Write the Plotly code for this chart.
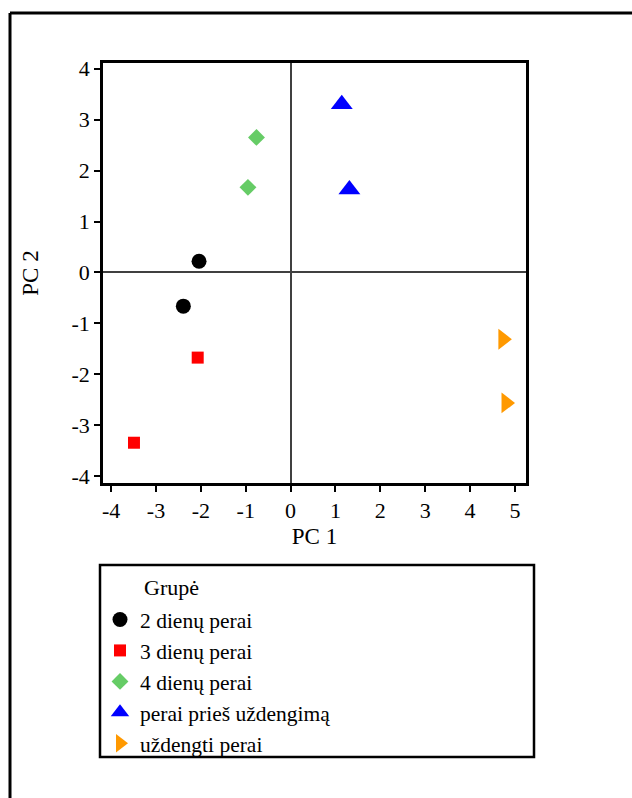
import plotly.graph_objects as go

groups = ["2 dienų perai", "3 dienų perai", "4 dienų perai", "perai prieš uždengimą", "uždengti perai"]
pc1 = {
    "2 dienų perai": [-2.04, -2.39],
    "3 dienų perai": [-2.07, -3.49],
    "4 dienų perai": [-0.76, -0.95],
    "perai prieš uždengimą": [1.14, 1.31],
    "uždengti perai": [4.73, 4.80],
}
pc2 = {
    "2 dienų perai": [0.22, -0.66],
    "3 dienų perai": [-1.67, -3.34],
    "4 dienų perai": [2.65, 1.67],
    "perai prieš uždengimą": [3.30, 1.63],
    "uždengti perai": [-1.31, -2.56],
}
symbols = ["circle", "square", "diamond", "triangle-up", "triangle-right"]
colors = ["#000000", "#FF0000", "#66CC66", "#0000FF", "#FF9900"]
sizes = [15, 12, 13, 19, 18]
x_ticks = [-4, -3, -2, -1, 0, 1, 2, 3, 4, 5]
x_ticktext = ["-4", "-3", "-2", "-1", "0", "1", "2", "3", "4", "5"]
y_ticks = [-4, -3, -2, -1, 0, 1, 2, 3, 4]
y_ticktext = ["-4", "-3", "-2", "-1", "0", "1", "2", "3", "4"]

FONT = "Liberation Serif"

fig = go.Figure()
for g, s, c, sz in zip(groups, symbols, colors, sizes):
    fig.add_trace(go.Scatter(
        x=pc1[g], y=pc2[g], mode="markers", name=g,
        marker=dict(symbol=s, color=c, size=sz, line=dict(width=0)),
    ))

W, H = 632, 798
L, R, T, B = 103, 526, 63, 483
pw, ph = R - L, B - T

def px(x):
    return (x - L) / pw

def py(y):
    return (B - y) / ph

axis_common = dict(
    showgrid=False, zeroline=True, zerolinecolor="#404040", zerolinewidth=2,
    showline=True, linecolor="black", linewidth=2.5, mirror=True,
    ticks="outside", ticklen=6, tickwidth=2, tickcolor="black",
    tickfont=dict(family=FONT, size=22, color="black"),
)

fig.update_layout(
    width=W, height=H,
    margin=dict(l=L, r=W - R, t=T, b=H - B),
    paper_bgcolor="white", plot_bgcolor="white",
    font=dict(family=FONT, color="black"),
    xaxis=dict(range=[-4.18, 5.245], tickvals=x_ticks, ticktext=x_ticktext,
               title=dict(text="PC 1", font=dict(family=FONT, size=23), standoff=6),
               **axis_common),
    yaxis=dict(range=[-4.13, 4.11], tickvals=y_ticks, ticktext=y_ticktext,
               title=dict(text="PC 2", font=dict(family=FONT, size=23), standoff=27),
               **axis_common),
    showlegend=True,
    legend=dict(
        x=px(100), y=py(599), xanchor="left", yanchor="top",
        bgcolor="rgba(0,0,0,0)", borderwidth=0,
        font=dict(family=FONT, size=21.5, color="black"),
        itemsizing="trace",
    ),
    shapes=[
        dict(type="rect", xref="paper", yref="paper",
             x0=px(100), x1=px(534), y0=py(757), y1=py(565),
             line=dict(color="black", width=2.5), fillcolor="rgba(0,0,0,0)"),
        dict(type="line", xref="paper", yref="paper",
             x0=px(10), x1=px(645), y0=py(13), y1=py(13),
             line=dict(color="black", width=3)),
        dict(type="line", xref="paper", yref="paper",
             x0=px(10), x1=px(10), y0=py(13), y1=py(810),
             line=dict(color="black", width=3)),
    ],
    annotations=[
        dict(text="Grupė", xref="paper", yref="paper", x=px(142), y=py(587),
             xanchor="left", yanchor="middle", showarrow=False,
             font=dict(family=FONT, size=22, color="black")),
    ],
)

fig.write_html(
    "out.html",
    config={"displayModeBar": False},
    post_script="document.body.style.margin='0';document.body.style.overflow='hidden';",
)
